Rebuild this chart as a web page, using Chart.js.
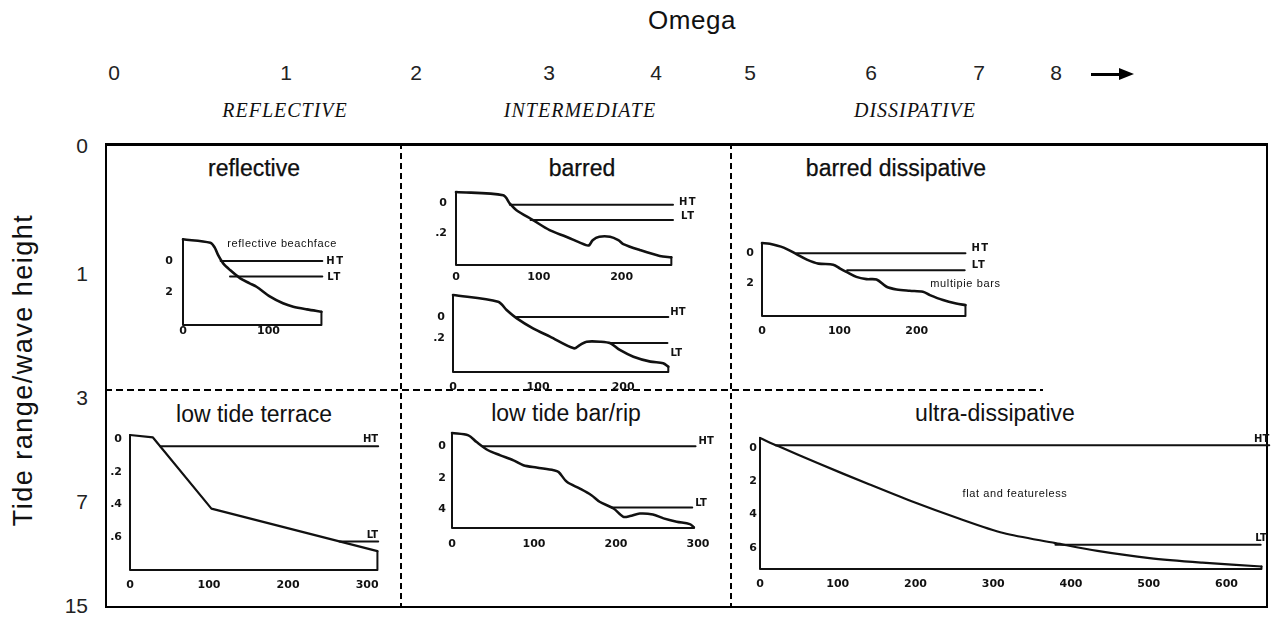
<!DOCTYPE html>
<html lang="en">
<head>
<meta charset="UTF-8" />
<title>Beach states - Omega vs tide range</title>
<script src="https://cdn.jsdelivr.net/npm/chart.js"></script>
<style>
  body { margin:0; width:1279px; height:618px; background:#fff; position:relative; overflow:hidden;
         font-family:"Liberation Sans", Arial, sans-serif; color:#111; }
  .t { position:absolute; white-space:nowrap; transform:translate(-50%,-50%); line-height:1; }
  .num { font-size:21px; color:#222; }
  .regime { font-family:"Liberation Serif", serif; font-style:italic; font-size:20px; letter-spacing:1px; }
  .title { font-size:23px; }
  .top { -webkit-text-stroke:0.25px #000; }
  .frame { position:absolute; box-sizing:border-box; left:105px; top:143px; width:1163px; height:465px;
           border:2px solid #000; border-top-width:3px; }
  .vdash { position:absolute; width:2px; background:repeating-linear-gradient(to bottom,#000 0 6px,transparent 6px 10px); }
  .hdash { position:absolute; height:2px; background:repeating-linear-gradient(to right,#000 0 7px,transparent 7px 11px); }
  canvas { position:absolute; }
  .note { position:absolute; white-space:nowrap; line-height:1; }
  .small { font-size:11px; letter-spacing:.6px; }
  .tl { font:bold 10px "DejaVu Sans", sans-serif; }
  .sp { letter-spacing:1.5px; }
</style>
</head>
<body>
  <div class="t" style="left:692px;top:20px;font-size:26px;letter-spacing:.5px">Omega</div>
  <div id="omega"></div>
  <div style="position:absolute;left:1091px;top:73px;width:30px;height:3px;background:#000"></div>
  <div style="position:absolute;left:1119px;top:68px;width:0;height:0;border-left:15px solid #000;border-top:6px solid transparent;border-bottom:6px solid transparent"></div>

  <div class="t regime" style="left:285px;top:110px">REFLECTIVE</div>
  <div class="t regime" style="left:580px;top:110px">INTERMEDIATE</div>
  <div class="t regime" style="left:915px;top:110px">DISSIPATIVE</div>

  <div class="t" style="left:23px;top:370px;font-size:27px;letter-spacing:1.5px;transform:translate(-50%,-50%) rotate(-90deg)">Tide range/wave height</div>
  <div id="tide"></div>

  <div class="frame"></div>
  <div class="vdash" style="left:400px;top:143px;height:465px"></div>
  <div class="vdash" style="left:730px;top:143px;height:465px"></div>
  <div class="hdash" style="left:105px;top:389px;width:938px"></div>

  <div class="t title top" style="left:254px;top:168px">reflective</div>
  <div class="t title top" style="left:582px;top:168px">barred</div>
  <div class="t title top" style="left:896px;top:168px">barred dissipative</div>
  <div class="t title" style="left:254px;top:414px">low tide terrace</div>
  <div class="t title" style="left:566px;top:413px">low tide bar/rip</div>
  <div class="t title" style="left:995px;top:413px">ultra-dissipative</div>

<script>
  // outer axes
  const omegaLabels = ['0', '1', '2', '3', '4', '5', '6', '7', '8'];
  const tideLabels = ['0', '1', '3', '7', '15'];

  // reflective
  const reflX = [0, 32, 37, 41, 47, 55, 67, 78, 86, 102, 117, 129, 145, 162];
  const reflY = [-1.40, -1.18, -0.88, -0.39, 0.15, 0.58, 1.12, 1.44, 1.66, 2.3, 2.73, 2.95, 3.12, 3.27];
  const reflTide = [0, 1];
  const reflXTicks = [0, 100];
  const reflYTicks = [0, 2];

  // barred (upper)
  const bar1X = [0, 57, 65, 73, 93, 113, 133, 157, 161, 165, 173, 186, 196, 202, 222, 246, 260];
  const bar1Y = [-0.075, -0.053, 0.002, 0.047, 0.113, 0.18, 0.224, 0.28, 0.28, 0.247, 0.224, 0.224, 0.247, 0.273, 0.313, 0.353, 0.362];
  const bar1Tide = [0.01, 0.113];

  // barred (lower)
  const bar2X = [0, 53, 63, 75, 94, 114, 142, 149, 157, 173, 185, 196, 212, 232, 247, 253];
  const bar2Y = [-0.21, -0.146, -0.067, 0.013, 0.108, 0.187, 0.298, 0.267, 0.235, 0.235, 0.25, 0.314, 0.378, 0.425, 0.44, 0.473];
  const bar2Tide = [0, 0.248];
  const barXTicks = [0, 100, 200];
  const barYTicks = [0, 0.2];

  // barred dissipative
  const bdisX = [0, 10, 28, 45, 58, 73, 92, 101, 109, 122, 135, 148, 161, 174, 191, 208, 217, 234, 251, 263];
  const bdisY = [-0.69, -0.64, -0.38, 0.07, 0.42, 0.69, 0.76, 1.02, 1.24, 1.58, 1.73, 1.76, 2.24, 2.42, 2.51, 2.58, 2.8, 3.13, 3.36, 3.47];
  const bdisTide = [0, 1.13];

  // low tide terrace
  const lttX = [0, 29, 103, 313];
  const lttY = [-0.025, -0.01, 0.425, 0.685];
  const lttTide = [0.043, 0.626];
  const lttXTicks = [0, 100, 200, 300];
  const lttYTicks = [0, 0.2, 0.4, 0.6];

  // low tide bar/rip
  const ltbrX = [0, 20, 30, 44, 59, 75, 87, 103, 124, 130, 140, 156, 170, 180, 197, 209, 217, 229, 245, 258, 274, 290, 295];
  const ltbrY = [-0.85, -0.7, -0.27, 0.25, 0.57, 0.89, 1.2, 1.35, 1.52, 1.63, 2.26, 2.69, 3.11, 3.53, 3.96, 4.49, 4.44, 4.28, 4.34, 4.59, 4.8, 4.95, 5.16];
  const ltbrTide = [0, 3.9];
  const ltbrYTicks = [0, 2, 4];

  // ultra-dissipative
  const ultraX = [0, 24, 74, 141, 195, 254, 313, 380, 434, 501, 569, 645];
  const ultraY = [-0.58, -0.08, 0.92, 2.2, 3.2, 4.2, 5.1, 5.7, 6.17, 6.6, 6.87, 7.1];
  const ultraTide = [-0.15, 5.8];
  const ultraXTicks = [0, 100, 200, 300, 400, 500, 600];
  const ultraYTicks = [0, 2, 4, 6];

  // layout of the outer labels
  const omegaX = [114, 286, 416, 549, 656, 750, 871, 979, 1056];
  const tideY = [145, 273, 397, 501, 605];

  omegaLabels.forEach((s, i) => {
    document.getElementById('omega').insertAdjacentHTML('beforeend',
      `<div class="t num" style="left:${omegaX[i]}px;top:72px">${s}</div>`);
  });
  tideLabels.forEach((s, i) => {
    document.getElementById('tide').insertAdjacentHTML('beforeend',
      `<div class="t num" style="left:88px;top:${tideY[i]}px;transform:translate(-100%,-50%)">${s}</div>`);
  });

  // each profile panel: data + where its plot area sits
  const panels = [
    { xs: reflX, ys: reflY, base: 4.13, tide: reflTide, from: [44, 55], to: [163, 163],
      area: [183, 239, 141, 86], xMax: 165, yMin: -1.42, yMax: 4.13, xt: reflXTicks, yt: reflYTicks,
      xPad: 0, yPad: 10, smooth: 0.3, lw: 2.6,
      notes: [
        { text: 'reflective beachface', x: 116, y: -1.16, align: 'center', cls: 'small' },
        { text: 'HT', x: 163, y: 0, dx: 4, dy: -1, cls: 'tl sp' },
        { text: 'LT', x: 163, y: 1, dx: 5, dy: 0, cls: 'tl sp' }
      ] },
    { xs: bar1X, ys: bar1Y, base: 0.413, tide: bar1Tide, from: [65, 90], to: [262, 262],
      area: [456, 192, 217, 73], xMax: 262, yMin: -0.075, yMax: 0.413, xt: barXTicks, yt: barYTicks,
      xPad: 6, yPad: 9, smooth: 0.3, lw: 2.6,
      notes: [
        { text: 'HT', x: 262, y: 0.01, dx: 6, dy: -4, cls: 'tl sp' },
        { text: 'LT', x: 262, y: 0.113, dx: 8, dy: -5, cls: 'tl sp' }
      ] },
    { xs: bar2X, ys: bar2Y, base: 0.524, tide: bar2Tide, from: [75, 185], to: [253, 252],
      area: [453, 295, 217, 77], xMax: 255, yMin: -0.21, yMax: 0.524, xt: barXTicks, yt: barYTicks,
      xPad: 9, yPad: 8, smooth: 0.3, lw: 2.6,
      notes: [
        { text: 'HT', x: 253, y: 0, dx: 2, dy: -6, cls: 'tl' },
        { text: 'LT', x: 252, y: 0.248, dx: 3, dy: 9, cls: 'tl' }
      ] },
    { xs: bdisX, ys: bdisY, base: 4.2, tide: bdisTide, from: [45, 110], to: [263, 262],
      area: [762, 243, 205, 73], xMax: 265, yMin: -0.69, yMax: 4.2, xt: barXTicks, yt: reflYTicks,
      xPad: 9, yPad: 8, smooth: 0.3, lw: 2.6,
      notes: [
        { text: 'HT', x: 263, y: 0, dx: 6, dy: -6, cls: 'tl sp' },
        { text: 'LT', x: 262, y: 1.13, dx: 7, dy: -6, cls: 'tl sp' },
        { text: 'multipie bars', x: 263, y: 2.0, align: 'center', cls: 'small' }
      ] },
    { xs: lttX, ys: lttY, base: 0.8, tide: lttTide, from: [38, 265], to: [314, 314],
      area: [130, 435, 249, 135], xMax: 315, yMin: -0.025, yMax: 0.8, xt: lttXTicks, yt: lttYTicks,
      xPad: 9, yPad: 8, smooth: 0, lw: 2.2,
      notes: [
        { text: 'HT', x: 314, y: 0.043, dy: -8, align: 'right', cls: 'tl' },
        { text: 'LT', x: 314, y: 0.626, dy: -8, align: 'right', cls: 'tl' }
      ] },
    { xs: ltbrX, ys: ltbrY, base: 5.2, tide: ltbrTide, from: [37, 195], to: [297, 293],
      area: [452, 433, 246, 95], xMax: 300, yMin: -0.85, yMax: 5.2, xt: lttXTicks, yt: ltbrYTicks,
      xPad: 10, yPad: 6, smooth: 0.3, lw: 2.5,
      notes: [
        { text: 'HT', x: 297, y: 0, dx: 3, dy: -6, cls: 'tl' },
        { text: 'LT', x: 293, y: 3.9, dx: 3, dy: -6, cls: 'tl' }
      ] },
    { xs: ultraX, ys: ultraY, base: 7.25, tide: ultraTide, from: [20, 380], to: [655, 644],
      area: [760, 438, 510, 131], xMax: 656, yMin: -0.58, yMax: 7.25, xt: ultraXTicks, yt: ultraYTicks,
      xPad: 9, yPad: 3, smooth: 0.3, lw: 2.2,
      notes: [
        { text: 'HT', x: 655, y: -0.15, dy: -7, align: 'right', cls: 'tl' },
        { text: 'LT', x: 652, y: 5.8, dy: -8, align: 'right', cls: 'tl' },
        { text: 'flat and featureless', x: 328, y: 2.7, align: 'center', cls: 'small' }
      ] }
  ];

  const ink = '#111';
  const tickFont = { family: 'DejaVu Sans', size: 11, weight: 'bold' };

  function pts(xs, ys) {
    return xs.map((x, i) => ({ x: x, y: ys[i] }));
  }

  function line(data, w, tension) {
    return { data: data, borderColor: ink, borderWidth: w, pointRadius: 0, tension: tension || 0,
             fill: false, clip: false, borderJoinStyle: 'round', borderCapStyle: 'round' };
  }

  function fmt(v) {
    if (v === 0) return '0';
    return Math.abs(v) < 1 ? String(v).replace('0.', '.') : String(v);
  }

  function place(chart, left, top, n) {
    const el = document.createElement('div');
    el.className = 'note ' + (n.cls || '');
    el.textContent = n.text;
    const px = left + chart.scales.x.getPixelForValue(n.x) + (n.dx || 0);
    const py = top + chart.scales.y.getPixelForValue(n.y) + (n.dy || 0);
    el.style.left = px + 'px';
    el.style.top = py + 'px';
    if (n.align === 'right') el.style.transform = 'translate(-100%,-50%)';
    else if (n.align === 'center') el.style.transform = 'translate(-50%,-50%)';
    else el.style.transform = 'translate(0,-50%)';
    document.body.appendChild(el);
  }

  const padL = 34, padT = 12, padR = 40, axisH = 24;

  panels.forEach(p => {
    const [l, t, w, h] = p.area;
    const cv = document.createElement('canvas');
    cv.width = padL + w + padR;
    cv.height = padT + h + axisH;
    const left = l - padL, top = t - padT;
    cv.style.left = left + 'px';
    cv.style.top = top + 'px';
    document.body.appendChild(cv);

    const n = p.xs.length;
    const frame = [
      { x: p.xs[0], y: p.ys[0] }, { x: p.xs[0], y: p.base },
      { x: p.xs[n - 1], y: p.base }, { x: p.xs[n - 1], y: p.ys[n - 1] }
    ];

    const chart = new Chart(cv, {
      type: 'line',
      data: {
        datasets: [
          line(frame, 2),
          line(pts(p.xs, p.ys), p.lw, p.smooth),
          line([{ x: p.from[0], y: p.tide[0] }, { x: p.to[0], y: p.tide[0] }], 2),
          line([{ x: p.from[1], y: p.tide[1] }, { x: p.to[1], y: p.tide[1] }], 2)
        ]
      },
      options: {
        responsive: false,
        animation: false,
        events: [],
        layout: { padding: { left: 0, top: padT, right: padR, bottom: 0 } },
        plugins: { legend: { display: false }, tooltip: { enabled: false } },
        scales: {
          x: {
            type: 'linear', min: 0, max: p.xMax,
            grid: { display: false, drawTicks: false }, border: { display: false },
            ticks: { autoSkip: false, maxRotation: 0, padding: p.xPad, color: ink, font: tickFont,
                     callback: v => String(v) },
            afterBuildTicks: s => { s.ticks = p.xt.map(v => ({ value: v })); },
            afterFit: s => { s.height = axisH; s.paddingLeft = 0; s.paddingRight = 0; }
          },
          y: {
            type: 'linear', reverse: true, min: p.yMin, max: p.yMax,
            grid: { display: false, drawTicks: false }, border: { display: false },
            ticks: { autoSkip: false, padding: p.yPad, color: ink, font: tickFont, callback: v => fmt(v) },
            afterBuildTicks: s => { s.ticks = p.yt.map(v => ({ value: v })); },
            afterFit: s => { s.width = padL; s.paddingTop = 0; s.paddingBottom = 0; }
          }
        }
      }
    });

    p.notes.forEach(nt => place(chart, left, top, nt));
  });
</script>
</body>
</html>
